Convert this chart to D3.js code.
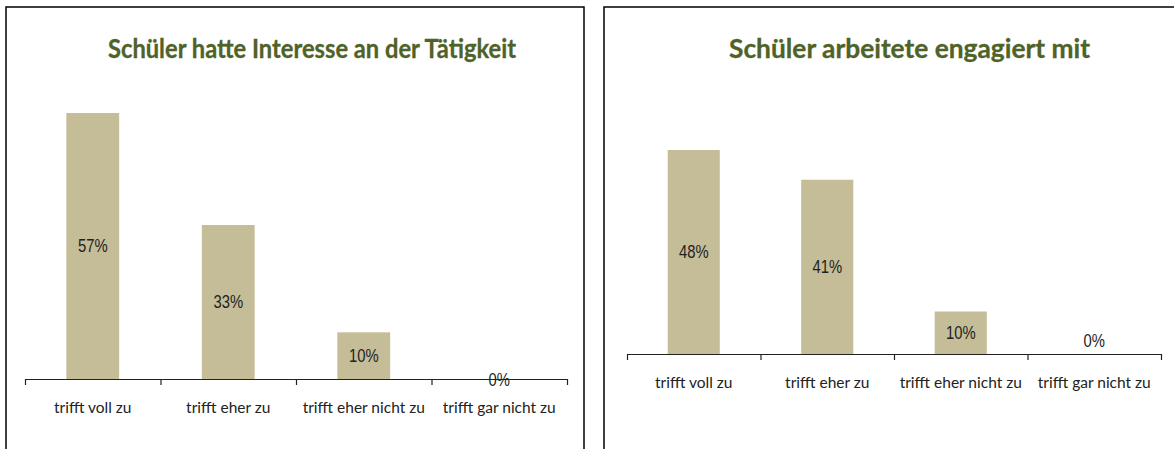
<!DOCTYPE html>
<html>
<head>
<meta charset="utf-8">
<script src="https://cdn.jsdelivr.net/npm/d3@7/dist/d3.min.js"></script>
<style>
  html, body { margin: 0; padding: 0; background: #fff; }
  svg { display: block; }
</style>
</head>
<body>
<svg id="chart" width="1174" height="449"></svg>
<script>
// ---- data ----
const categories = ["trifft voll zu", "trifft eher zu", "trifft eher nicht zu", "trifft gar nicht zu"];
const titleInteresse = "Schüler hatte Interesse an der Tätigkeit";
const titleEngagiert = "Schüler arbeitete engagiert mit";
const valuesInteresse = [57, 33, 10, 0];
const valuesEngagiert = [48, 41, 10, 0];

// ---- layout / style ----
const panels = [
  { title: titleInteresse, values: valuesInteresse, yMax: 60,
    frame: { x: 6, y: 7, w: 578, h: 470 },
    x0: 25, x1: 567, base: 379, top: 99,
    titleX: 312, titleY: 58, titleW: 408, zeroDy: 1 },
  { title: titleEngagiert, values: valuesEngagiert, yMax: 50,
    frame: { x: 604, y: 7, w: 620, h: 470 },
    x0: 627, x1: 1161, base: 354, top: 141.5,
    titleX: 909.5, titleY: 58, titleW: 361, zeroDy: -13 }
];

const barColor = "#c4bd97";
const titleColor = "#4f6228";
const svg = d3.select("#chart");

panels.forEach(p => {
  const g = svg.append("g");

  g.append("rect")
    .attr("x", p.frame.x).attr("y", p.frame.y)
    .attr("width", p.frame.w).attr("height", p.frame.h)
    .attr("fill", "#fff").attr("stroke", "#000").attr("stroke-width", 1.5);

  g.append("text")
    .attr("x", p.titleX).attr("y", p.titleY)
    .attr("text-anchor", "middle")
    .attr("font-family", "Lato, 'Open Sans', sans-serif")
    .attr("font-weight", "bold")
    .attr("font-size", 27)
    .attr("fill", titleColor)
    .attr("stroke", titleColor).attr("stroke-width", 0.3)
    .attr("textLength", p.titleW)
    .attr("lengthAdjust", "spacingAndGlyphs")
    .text(p.title);

  const x = d3.scaleBand().domain(categories).range([p.x0, p.x1])
    .paddingInner(0.61).paddingOuter(0.305);
  const y = d3.scaleLinear().domain([0, p.yMax]).range([p.base, p.top]);

  const data = categories.map((c, i) => ({ c, v: p.values[i] }));

  g.selectAll("rect.bar").data(data).enter().append("rect")
    .attr("class", "bar")
    .attr("x", d => x(d.c)).attr("width", x.bandwidth())
    .attr("y", d => y(d.v)).attr("height", d => y(0) - y(d.v))
    .attr("fill", barColor);

  // boundary ticks axis
  const xb = d3.scaleLinear().domain([0, categories.length]).range([p.x0, p.x1]);
  const ax = g.append("g")
    .attr("transform", `translate(0,${p.base})`)
    .call(d3.axisBottom(xb).tickValues(d3.range(categories.length + 1))
      .tickSize(6).tickSizeOuter(0).tickFormat(""));
  ax.select(".domain").attr("stroke", "#222").attr("stroke-width", 1.2);
  ax.selectAll(".tick line").attr("stroke", "#222").attr("stroke-width", 1.2);

  // category labels
  const lab = g.append("g")
    .attr("transform", `translate(0,${p.base})`)
    .call(d3.axisBottom(x).tickSize(0).tickPadding(0));
  lab.select(".domain").remove();
  lab.selectAll(".tick text")
    .attr("dy", 34).attr("y", 0)
    .attr("font-family", "Lato, 'Open Sans', sans-serif")
    .attr("font-size", 15.5)
    .attr("fill", "#222");

  // value labels (condensed look)
  g.selectAll("text.val").data(data).enter().append("text")
    .attr("class", "val")
    .attr("transform", d => {
      const cx = x(d.c) + x.bandwidth() / 2;
      const cy = d.v > 0 ? (y(d.v) + y(0)) / 2 : y(0) + p.zeroDy;
      return `translate(${cx},${cy}) scale(0.8,1)`;
    })
    .attr("dy", "0.35em")
    .attr("text-anchor", "middle")
    .attr("font-family", "'Liberation Sans', Arial, sans-serif")
    .attr("font-size", 18.5)
    .attr("fill", "#222")
    .text(d => d.v + "%");
});
</script>
</body>
</html>
